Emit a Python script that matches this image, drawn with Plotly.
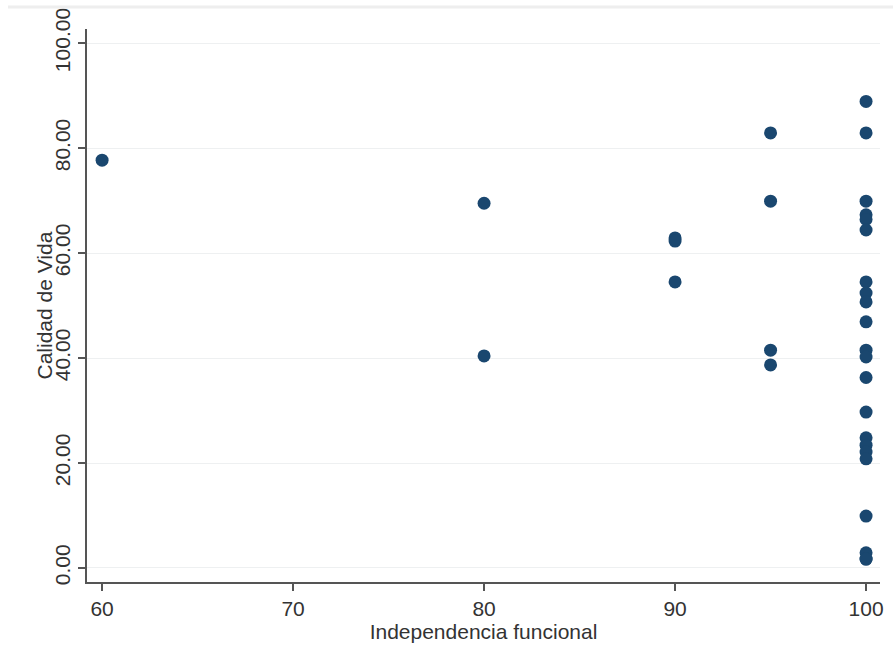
import plotly.graph_objects as go

indep = [60, 80, 80, 90, 90, 90, 95, 95, 95, 95,
         100, 100, 100, 100, 100, 100, 100, 100, 100, 100,
         100, 100, 100, 100, 100, 100, 100, 100, 100, 100, 100, 100]
calidad = [77.7, 69.5, 40.4, 62.9, 62.3, 54.5, 82.9, 69.9, 41.5, 38.7,
           88.9, 82.9, 69.9, 67.3, 66.4, 64.4, 54.5, 52.4, 50.7, 46.9,
           41.5, 40.2, 36.3, 29.7, 24.8, 23.4, 22.1, 20.8, 9.9, 2.9, 1.7, 1.7]

x_ticks = [60, 70, 80, 90, 100]
y_ticks = [0, 20, 40, 60, 80, 100]
y_tick_labels = ["0.00", "20.00", "40.00", "60.00", "80.00", "100.00"]
x_title = "Independencia funcional"
y_title = "Calidad de Vida"

fig = go.Figure()
fig.add_trace(go.Scatter(
    x=indep, y=calidad, mode="markers",
    marker=dict(size=13, color="#1a476f", line=dict(width=0)),
    cliponaxis=False, showlegend=False,
))

W, H = 893, 649
L, R, T, B = 87, 13, 29, 67
pw, ph = W - L - R, H - T - B

axis_font = dict(family="Liberation Sans, Arial, sans-serif", size=21, color="#333")
fig.update_layout(
    width=W, height=H,
    margin=dict(l=L, r=R, t=T, b=B),
    paper_bgcolor="white", plot_bgcolor="white",
    font=axis_font,
    xaxis=dict(
        range=[59.21, 100.73], tickvals=x_ticks, ticktext=[str(v) for v in x_ticks],
        showgrid=False, zeroline=False, automargin=False,
        showline=True, linecolor="#555", linewidth=1.5,
        ticks="outside", ticklen=7, tickcolor="#555", tickwidth=1.5,
        title=dict(text=x_title, standoff=2, font=axis_font),
    ),
    yaxis=dict(
        range=[-2.67, 102.7], tickvals=y_ticks, ticktext=y_tick_labels,
        tickangle=-90,
        showgrid=True, gridcolor="#eef0f1", gridwidth=1, zeroline=False, automargin=False,
        showline=True, linecolor="#555", linewidth=1.5,
        ticks="outside", ticklen=7, tickcolor="#555", tickwidth=1.5,
    ),
    annotations=[dict(text=y_title, textangle=-90, xref="paper", yref="paper",
                      x=(44 - L) / pw, y=0.5, xanchor="center", yanchor="middle",
                      showarrow=False, font=axis_font)],
    shapes=[dict(type="line", xref="paper", yref="paper",
                 x0=-(L - 8) / pw, x1=1 + R / pw, y0=1 + (T - 7) / ph, y1=1 + (T - 7) / ph,
                 line=dict(color="#eeeeee", width=3))],
)

fig.write_html("out.html", config={"displayModeBar": False},
               post_script="document.body.style.margin='0px';document.body.style.padding='0px';")
